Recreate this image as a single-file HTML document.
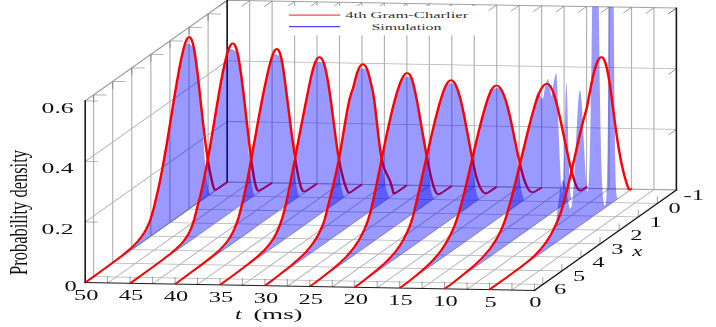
<!DOCTYPE html>
<html><head><meta charset="utf-8"><title>Probability density</title>
<style>
html,body{margin:0;padding:0;background:#fff}
svg{display:block}
text{font-family:"Liberation Serif",serif;fill:#111}
.lt text{fill:#333}
.g{stroke:#b2b2b2;stroke-width:.78;fill:none}
.e{stroke:#a2a2a2;stroke-width:1.0;fill:none}
.k{stroke:#666;stroke-width:.5;fill:none}
.k2{stroke:#999;stroke-width:.6;fill:none}
.a{stroke:#1a1a1a;stroke-width:1.05;fill:none;stroke-linecap:square}
.f{fill:#00f;fill-opacity:.4;stroke:none}
.r{fill:none;stroke:#f00;stroke-width:1.65;stroke-linejoin:round}
</style></head><body>
<svg width="716" height="327" viewBox="0 0 716 327">
<rect width="716" height="327" fill="#fff"/>
<g transform="scale(1.5,1)"><line x1="356.27" y1="290.40" x2="450.93" y2="189.90" class="g"/><line x1="450.93" y1="189.90" x2="450.93" y2="8.10" class="g"/><line x1="341.29" y1="290.01" x2="435.96" y2="189.51" class="g"/><line x1="435.96" y1="189.51" x2="435.96" y2="7.71" class="g"/><line x1="326.32" y1="289.62" x2="420.99" y2="189.12" class="g"/><line x1="420.99" y1="189.12" x2="420.99" y2="7.32" class="g"/><line x1="311.35" y1="289.23" x2="406.01" y2="188.73" class="g"/><line x1="406.01" y1="188.73" x2="406.01" y2="6.93" class="g"/><line x1="296.37" y1="288.84" x2="391.04" y2="188.34" class="g"/><line x1="391.04" y1="188.34" x2="391.04" y2="6.54" class="g"/><line x1="281.40" y1="288.45" x2="376.07" y2="187.95" class="g"/><line x1="376.07" y1="187.95" x2="376.07" y2="6.15" class="g"/><line x1="266.43" y1="288.06" x2="361.09" y2="187.56" class="g"/><line x1="361.09" y1="187.56" x2="361.09" y2="5.76" class="g"/><line x1="251.45" y1="287.67" x2="346.12" y2="187.17" class="g"/><line x1="346.12" y1="187.17" x2="346.12" y2="5.37" class="g"/><line x1="236.48" y1="287.28" x2="331.15" y2="186.78" class="g"/><line x1="331.15" y1="186.78" x2="331.15" y2="4.98" class="g"/><line x1="221.51" y1="286.89" x2="316.17" y2="186.39" class="g"/><line x1="316.17" y1="186.39" x2="316.17" y2="4.59" class="g"/><line x1="206.53" y1="286.50" x2="301.20" y2="186.00" class="g"/><line x1="301.20" y1="186.00" x2="301.20" y2="4.20" class="g"/><line x1="191.56" y1="286.11" x2="286.23" y2="185.61" class="g"/><line x1="286.23" y1="185.61" x2="286.23" y2="3.81" class="g"/><line x1="176.59" y1="285.72" x2="271.25" y2="185.22" class="g"/><line x1="271.25" y1="185.22" x2="271.25" y2="3.42" class="g"/><line x1="161.61" y1="285.33" x2="256.28" y2="184.83" class="g"/><line x1="256.28" y1="184.83" x2="256.28" y2="3.03" class="g"/><line x1="146.64" y1="284.94" x2="241.31" y2="184.44" class="g"/><line x1="241.31" y1="184.44" x2="241.31" y2="2.64" class="g"/><line x1="131.67" y1="284.55" x2="226.33" y2="184.05" class="g"/><line x1="226.33" y1="184.05" x2="226.33" y2="2.25" class="g"/><line x1="116.69" y1="284.16" x2="211.36" y2="183.66" class="g"/><line x1="211.36" y1="183.66" x2="211.36" y2="1.86" class="g"/><line x1="101.72" y1="283.77" x2="196.39" y2="183.27" class="g"/><line x1="196.39" y1="183.27" x2="196.39" y2="1.47" class="g"/><line x1="86.75" y1="283.38" x2="181.41" y2="182.88" class="g"/><line x1="181.41" y1="182.88" x2="181.41" y2="1.08" class="g"/><line x1="71.77" y1="282.99" x2="166.44" y2="182.49" class="g"/><line x1="166.44" y1="182.49" x2="166.44" y2="0.69" class="g"/><line x1="56.80" y1="282.60" x2="151.47" y2="182.10" class="g"/><line x1="151.47" y1="182.10" x2="151.47" y2="0.30" class="g"/><line x1="450.93" y1="189.90" x2="151.47" y2="182.10" class="g"/><line x1="151.47" y1="182.10" x2="151.47" y2="0.30" class="g"/><line x1="438.21" y1="203.41" x2="138.74" y2="195.61" class="g"/><line x1="138.74" y1="195.61" x2="138.74" y2="13.81" class="g"/><line x1="425.49" y1="216.92" x2="126.02" y2="209.12" class="g"/><line x1="126.02" y1="209.12" x2="126.02" y2="27.32" class="g"/><line x1="412.76" y1="230.42" x2="113.29" y2="222.62" class="g"/><line x1="113.29" y1="222.62" x2="113.29" y2="40.82" class="g"/><line x1="400.04" y1="243.93" x2="100.57" y2="236.13" class="g"/><line x1="100.57" y1="236.13" x2="100.57" y2="54.33" class="g"/><line x1="387.31" y1="257.44" x2="87.85" y2="249.64" class="g"/><line x1="87.85" y1="249.64" x2="87.85" y2="67.84" class="g"/><line x1="374.59" y1="270.95" x2="75.12" y2="263.15" class="g"/><line x1="75.12" y1="263.15" x2="75.12" y2="81.35" class="g"/><line x1="361.87" y1="284.46" x2="62.40" y2="276.66" class="g"/><line x1="62.40" y1="276.66" x2="62.40" y2="94.86" class="g"/><line x1="56.80" y1="222.00" x2="151.47" y2="121.50" class="g"/><line x1="151.47" y1="121.50" x2="450.93" y2="129.30" class="g"/><line x1="56.80" y1="161.40" x2="151.47" y2="60.90" class="g"/><line x1="151.47" y1="60.90" x2="450.93" y2="68.70" class="g"/><line x1="56.80" y1="100.80" x2="151.47" y2="0.30" class="e"/><line x1="151.47" y1="0.30" x2="450.93" y2="8.10" class="e"/><line x1="56.80" y1="282.60" x2="151.47" y2="182.10" class="e"/><line x1="151.47" y1="182.10" x2="450.93" y2="189.90" class="e"/></g>
<g transform="scale(1.5,1)"><line x1="356.27" y1="290.40" x2="356.27" y2="283.40" class="k"/><line x1="450.93" y1="8.10" x2="445.49" y2="13.88" class="k"/><line x1="341.29" y1="290.01" x2="341.29" y2="283.01" class="k"/><line x1="435.96" y1="7.71" x2="430.52" y2="13.49" class="k"/><line x1="326.32" y1="289.62" x2="326.32" y2="282.62" class="k"/><line x1="420.99" y1="7.32" x2="415.54" y2="13.10" class="k"/><line x1="311.35" y1="289.23" x2="311.35" y2="282.23" class="k"/><line x1="406.01" y1="6.93" x2="400.57" y2="12.71" class="k"/><line x1="296.37" y1="288.84" x2="296.37" y2="281.84" class="k"/><line x1="391.04" y1="6.54" x2="385.60" y2="12.32" class="k"/><line x1="281.40" y1="288.45" x2="281.40" y2="281.45" class="k"/><line x1="376.07" y1="6.15" x2="370.62" y2="11.93" class="k"/><line x1="266.43" y1="288.06" x2="266.43" y2="281.06" class="k"/><line x1="361.09" y1="5.76" x2="355.65" y2="11.54" class="k"/><line x1="251.45" y1="287.67" x2="251.45" y2="280.67" class="k"/><line x1="346.12" y1="5.37" x2="340.68" y2="11.15" class="k"/><line x1="236.48" y1="287.28" x2="236.48" y2="280.28" class="k"/><line x1="331.15" y1="4.98" x2="325.70" y2="10.76" class="k"/><line x1="221.51" y1="286.89" x2="221.51" y2="279.89" class="k"/><line x1="316.17" y1="4.59" x2="310.73" y2="10.37" class="k"/><line x1="206.53" y1="286.50" x2="206.53" y2="279.50" class="k"/><line x1="301.20" y1="4.20" x2="295.76" y2="9.98" class="k"/><line x1="191.56" y1="286.11" x2="191.56" y2="279.11" class="k"/><line x1="286.23" y1="3.81" x2="280.78" y2="9.59" class="k"/><line x1="176.59" y1="285.72" x2="176.59" y2="278.72" class="k"/><line x1="271.25" y1="3.42" x2="265.81" y2="9.20" class="k"/><line x1="161.61" y1="285.33" x2="161.61" y2="278.33" class="k"/><line x1="256.28" y1="3.03" x2="250.84" y2="8.81" class="k"/><line x1="146.64" y1="284.94" x2="146.64" y2="277.94" class="k"/><line x1="241.31" y1="2.64" x2="235.86" y2="8.42" class="k"/><line x1="131.67" y1="284.55" x2="131.67" y2="277.55" class="k"/><line x1="226.33" y1="2.25" x2="220.89" y2="8.03" class="k"/><line x1="116.69" y1="284.16" x2="116.69" y2="277.16" class="k"/><line x1="211.36" y1="1.86" x2="205.92" y2="7.64" class="k"/><line x1="101.72" y1="283.77" x2="101.72" y2="276.77" class="k"/><line x1="196.39" y1="1.47" x2="190.94" y2="7.25" class="k"/><line x1="86.75" y1="283.38" x2="86.75" y2="276.38" class="k"/><line x1="181.41" y1="1.08" x2="175.97" y2="6.86" class="k"/><line x1="71.77" y1="282.99" x2="71.77" y2="275.99" class="k"/><line x1="166.44" y1="0.69" x2="161.00" y2="6.47" class="k"/><line x1="56.80" y1="282.60" x2="56.80" y2="275.60" class="k"/><line x1="151.47" y1="0.30" x2="146.02" y2="6.08" class="k"/><line x1="450.93" y1="189.90" x2="450.93" y2="182.90" class="k"/><line x1="151.47" y1="0.30" x2="160.00" y2="0.52" class="k2"/><line x1="151.47" y1="0.30" x2="151.47" y2="7.80" class="k"/><line x1="438.21" y1="203.41" x2="438.21" y2="196.41" class="k"/><line x1="138.74" y1="13.81" x2="147.27" y2="14.03" class="k2"/><line x1="138.74" y1="13.81" x2="138.74" y2="21.31" class="k"/><line x1="425.49" y1="216.92" x2="425.49" y2="209.92" class="k"/><line x1="126.02" y1="27.32" x2="134.55" y2="27.54" class="k2"/><line x1="126.02" y1="27.32" x2="126.02" y2="34.82" class="k"/><line x1="412.76" y1="230.42" x2="412.76" y2="223.42" class="k"/><line x1="113.29" y1="40.82" x2="121.83" y2="41.05" class="k2"/><line x1="113.29" y1="40.82" x2="113.29" y2="48.32" class="k"/><line x1="400.04" y1="243.93" x2="400.04" y2="236.93" class="k"/><line x1="100.57" y1="54.33" x2="109.10" y2="54.55" class="k2"/><line x1="100.57" y1="54.33" x2="100.57" y2="61.83" class="k"/><line x1="387.31" y1="257.44" x2="387.31" y2="250.44" class="k"/><line x1="87.85" y1="67.84" x2="96.38" y2="68.06" class="k2"/><line x1="87.85" y1="67.84" x2="87.85" y2="75.34" class="k"/><line x1="374.59" y1="270.95" x2="374.59" y2="263.95" class="k"/><line x1="75.12" y1="81.35" x2="83.65" y2="81.57" class="k2"/><line x1="75.12" y1="81.35" x2="75.12" y2="88.85" class="k"/><line x1="361.87" y1="284.46" x2="361.87" y2="277.46" class="k"/><line x1="62.40" y1="94.86" x2="70.93" y2="95.08" class="k2"/><line x1="62.40" y1="94.86" x2="62.40" y2="102.36" class="k"/><line x1="56.80" y1="222.00" x2="65.13" y2="222.22" class="k2"/><line x1="450.93" y1="129.30" x2="445.49" y2="135.08" class="k"/><line x1="56.80" y1="161.40" x2="65.13" y2="161.62" class="k2"/><line x1="450.93" y1="68.70" x2="445.49" y2="74.48" class="k"/><line x1="56.80" y1="100.80" x2="65.13" y2="101.02" class="k2"/><line x1="450.93" y1="8.10" x2="445.49" y2="13.88" class="k"/></g>
<g transform="scale(1.5,1)"><line x1="56.80" y1="282.60" x2="356.27" y2="290.40" class="a"/><line x1="356.27" y1="290.40" x2="450.93" y2="189.90" class="a"/><line x1="56.80" y1="282.60" x2="56.80" y2="100.80" class="a"/><line x1="450.93" y1="189.90" x2="450.93" y2="8.10" class="a"/><line x1="151.47" y1="182.10" x2="151.47" y2="0.30" class="a"/></g>
<clipPath id="c"><polygon points="56.80,282.60 356.27,290.40 450.93,189.90 450.93,8.10 151.47,0.30 56.80,100.80"/></clipPath>
<g transform="scale(1.5,1)"><g clip-path="url(#c)"><polygon class="f" points="151.47,182.1 139.78,194.5 139.40,193.0 138.84,189.5 138.33,185.2 137.76,179.1 137.26,172.2 136.56,160.5 135.93,147.3 135.30,131.7 134.67,113.6 132.14,79.2 131.32,69.2 130.56,61.0 129.99,55.9 129.43,51.8 128.86,48.8 128.29,46.7 127.97,46.0 127.53,45.2 127.09,44.7 126.39,44.1 125.83,43.6 125.26,43.4 124.82,43.4 124.37,43.7 123.87,44.4 123.36,45.7 122.86,47.4 122.35,49.7 121.22,56.4 119.83,66.4 118.63,76.1 117.17,88.7 112.44,132.7 110.42,150.7 108.27,168.5 106.12,184.7 104.54,195.5 102.21,210.0 100.75,217.4 100.00,220.6 99.24,223.5 98.23,226.8 97.09,230.1 95.89,233.2 94.57,236.1 93.18,238.9 91.60,241.7 89.83,244.5 87.87,247.3 85.85,250.0 83.58,252.9 77.96,259.5 71.20,267.0 56.80,282.6"/><polyline class="r" points="56.80,282.6 71.20,267.0 78.12,259.3 81.29,255.7 83.88,252.5 86.19,249.6 88.20,246.9 90.22,243.9 91.95,241.1 93.39,238.5 94.83,235.6 96.27,232.3 97.42,229.2 98.57,225.7 99.44,222.8 100.30,219.4 101.17,215.4 102.61,207.6 105.20,191.1 106.35,183.1 107.51,174.5 109.23,160.7 111.25,143.4 116.44,95.4 117.88,82.5 119.32,70.4 120.76,59.4 122.20,50.0 122.77,46.7 123.35,43.8 123.93,41.4 124.50,39.4 125.08,38.0 125.37,37.5 125.66,37.2 125.94,37.0 126.23,37.0 126.52,37.1 126.81,37.4 127.10,38.0 127.38,38.6 127.67,39.5 128.25,41.9 128.82,45.2 129.69,51.7 130.55,60.2 131.71,73.6 135.74,128.0 136.60,138.8 137.47,148.8 138.62,160.4 139.77,170.3 140.92,178.8 142.08,185.8 142.65,188.6 142.94,189.6 143.20,190.0 143.60,190.0 144.26,189.5 145.31,188.5 151.47,182.1"/><polygon class="f" points="181.41,182.9 169.73,195.3 169.35,194.5 168.91,192.7 168.34,189.2 167.77,184.2 167.20,177.5 166.70,170.1 165.69,150.7 164.61,123.5 161.77,86.5 160.76,74.9 159.94,66.7 159.31,61.4 158.74,57.5 158.17,54.6 157.86,53.4 157.48,52.2 157.16,51.5 156.72,50.8 156.15,50.2 155.46,49.7 154.70,49.3 154.13,49.1 153.69,49.1 153.25,49.5 152.74,50.2 152.24,51.5 151.73,53.3 151.16,55.8 149.96,62.6 148.51,72.8 147.25,82.7 145.79,95.0 141.06,137.8 139.23,153.8 137.14,170.5 135.00,186.1 133.29,197.4 132.34,202.3 129.94,216.8 128.68,223.2 127.35,228.5 126.47,231.5 125.52,234.2 124.45,236.9 123.31,239.3 122.05,241.8 120.72,244.0 119.14,246.5 117.38,249.0 113.59,253.8 108.53,259.6 86.75,283.4"/><polyline class="r" points="86.75,283.4 103.48,265.2 108.39,259.8 113.58,253.8 115.60,251.3 117.33,249.0 119.06,246.6 120.79,243.9 122.24,241.4 123.39,239.2 124.54,236.6 125.70,233.7 126.56,231.2 127.43,228.3 128.29,224.9 128.87,222.3 129.45,219.5 130.31,214.7 132.33,202.3 133.49,196.2 134.93,186.6 136.37,176.3 138.10,163.0 139.84,148.6 145.03,101.8 146.76,86.7 148.20,75.1 149.64,64.7 151.09,55.7 151.66,52.7 152.24,50.0 152.82,47.7 153.40,45.9 153.97,44.5 154.55,43.7 154.84,43.4 155.13,43.3 155.42,43.4 155.70,43.6 155.99,43.9 156.57,45.1 157.15,47.0 157.72,49.5 158.30,52.8 158.88,56.9 159.45,61.7 160.61,73.1 161.76,86.3 162.92,100.9 166.09,142.8 167.53,160.2 168.40,169.4 169.26,177.3 170.13,183.8 170.71,187.0 171.28,189.4 171.57,190.1 171.86,190.6 172.15,190.8 172.44,190.8 175.52,188.3 181.41,182.9"/><polygon class="f" points="211.36,183.7 199.68,196.1 199.49,195.8 199.23,195.1 198.79,193.5 198.29,190.7 197.85,187.5 197.40,183.5 196.90,177.8 196.27,169.0 195.70,159.4 194.56,135.2 190.14,83.0 189.38,74.7 188.75,68.7 188.25,64.7 187.68,61.2 187.11,58.6 186.54,56.9 186.22,56.2 185.78,55.6 185.21,55.0 184.65,54.6 184.08,54.3 183.51,54.2 183.07,54.3 182.75,54.6 182.25,55.3 181.80,56.4 181.30,57.9 180.79,60.0 179.66,65.7 178.20,74.7 176.44,87.0 174.48,101.8 172.33,119.1 166.46,167.8 164.69,181.6 163.05,193.7 162.16,199.7 159.32,216.1 158.00,222.4 156.42,228.5 155.41,231.8 154.40,234.7 153.26,237.6 152.06,240.2 150.67,243.0 149.22,245.5 147.64,248.0 145.81,250.7 141.95,255.8 136.90,261.8 121.81,278.6 116.69,284.2"/><polyline class="r" points="116.69,284.2 121.86,278.5 136.80,261.9 141.68,256.1 143.69,253.6 145.71,250.9 147.43,248.4 149.15,245.6 150.59,243.1 152.02,240.3 153.17,237.8 154.32,234.9 155.47,231.6 156.33,228.8 157.77,223.3 158.63,219.5 159.21,216.7 160.07,212.0 162.08,200.2 162.94,194.4 164.66,181.8 166.39,168.4 172.42,118.4 174.43,102.2 176.44,87.0 178.45,73.1 180.18,62.6 181.04,58.2 181.61,55.6 182.19,53.3 182.76,51.5 183.33,50.1 183.91,49.3 184.20,49.0 184.48,48.9 184.77,49.0 185.06,49.2 185.35,49.5 185.63,50.1 186.21,51.7 186.78,54.0 187.36,57.0 188.22,63.2 188.79,68.3 189.65,77.3 194.25,131.6 196.26,153.6 197.41,164.7 198.27,172.0 199.42,180.4 200.28,185.4 200.86,188.0 201.14,189.1 201.72,190.7 202.01,191.1 202.29,191.4 202.98,191.5 203.37,191.4 203.76,191.2 204.95,190.1 211.36,183.7"/><polygon class="f" points="241.31,184.4 229.62,196.8 229.18,195.9 228.68,194.3 228.11,191.5 227.60,188.2 227.10,184.1 226.59,179.0 226.02,172.0 225.52,164.5 224.51,145.6 220.09,95.5 219.01,84.8 218.00,76.4 217.31,71.6 216.68,68.2 216.11,65.9 215.41,64.1 215.10,63.5 214.66,63.0 214.15,62.6 213.52,62.3 212.57,62.0 211.94,61.9 211.44,62.0 210.99,62.4 210.55,63.0 210.11,64.0 209.67,65.3 209.29,66.6 208.40,70.7 207.39,76.7 206.07,86.1 202.66,111.8 199.06,139.6 193.82,180.9 191.10,200.9 189.52,210.8 188.26,217.7 186.99,223.4 185.35,229.6 184.34,232.9 183.27,236.0 182.07,239.0 180.81,241.8 179.42,244.6 177.96,247.2 176.32,249.9 174.49,252.7 172.66,255.2 170.51,258.0 165.40,264.1 153.46,277.5 146.64,284.9"/><polyline class="r" points="146.64,284.9 153.51,277.5 165.26,264.3 168.12,260.9 170.41,258.1 172.42,255.5 174.42,252.8 176.14,250.2 177.86,247.4 179.29,244.9 180.72,242.0 182.15,238.8 183.30,235.9 184.44,232.6 185.30,229.8 187.02,223.3 188.17,218.1 189.31,212.0 191.03,201.4 193.61,182.5 199.34,137.4 203.06,108.7 206.21,85.0 207.64,75.1 208.79,68.5 209.36,65.7 209.93,63.3 210.51,61.2 211.08,59.6 211.65,58.4 212.22,57.5 212.51,57.3 212.80,57.2 213.08,57.1 213.37,57.2 213.66,57.4 214.23,58.2 214.52,58.8 215.09,60.3 215.95,63.5 216.52,66.3 217.09,69.7 217.67,73.6 218.81,82.9 219.96,94.1 221.10,106.7 223.97,139.8 224.83,148.8 225.69,157.0 226.83,166.3 227.98,174.0 229.12,180.5 230.27,185.8 231.13,189.3 231.70,191.2 231.99,192.0 232.27,192.5 232.54,192.7 232.80,192.8 233.46,192.4 234.64,191.3 241.31,184.4"/><polygon class="f" points="271.25,185.2 259.57,197.6 259.32,197.0 258.88,195.6 257.99,191.7 257.17,187.0 256.48,182.0 255.84,176.3 255.15,168.5 254.45,158.6 253.63,151.7 252.75,142.1 249.72,102.8 248.90,94.4 248.20,89.1 246.69,79.6 246.06,76.1 245.30,72.8 244.60,70.7 244.22,69.9 243.84,69.4 243.40,69.0 242.90,68.8 242.01,68.6 241.00,68.6 240.43,68.8 239.87,69.2 239.30,70.1 238.79,71.2 238.29,72.8 237.72,75.1 236.77,79.8 235.45,87.8 234.12,93.3 233.11,98.8 232.29,104.3 231.28,112.2 226.67,153.3 225.40,163.4 224.14,172.6 222.12,185.7 218.96,204.3 216.94,216.8 215.80,222.4 214.54,227.3 213.22,231.6 212.08,235.0 210.82,238.3 209.55,241.3 208.10,244.4 206.52,247.5 204.82,250.5 202.92,253.5 201.03,256.3 198.94,259.2 194.14,265.4 182.46,279.2 176.59,285.7"/><polyline class="r" points="176.59,285.7 179.45,282.6 182.61,279.0 194.08,265.5 196.38,262.6 198.67,259.6 200.68,256.8 202.69,253.9 204.41,251.2 206.13,248.2 207.85,244.9 209.28,241.9 210.72,238.6 211.87,235.6 213.01,232.3 214.45,227.6 215.31,224.5 215.88,222.1 216.45,219.4 217.03,216.3 219.04,203.8 222.19,185.2 224.20,172.2 225.63,161.7 226.78,152.4 230.22,121.3 231.37,111.4 232.23,104.8 233.09,98.9 233.95,94.1 235.39,88.1 237.11,77.8 237.68,74.8 238.25,72.2 239.11,69.0 239.69,67.2 240.26,65.9 240.55,65.4 241.12,64.6 241.70,64.2 241.98,64.2 242.27,64.3 242.56,64.5 243.13,65.1 243.70,66.2 244.28,67.8 244.56,68.8 245.14,71.0 245.71,73.7 246.28,76.9 248.29,89.7 248.87,94.1 249.15,96.8 249.73,102.9 250.30,109.9 252.02,132.8 252.88,143.6 253.74,152.7 254.60,159.7 255.46,165.0 256.32,169.0 257.18,172.1 259.48,179.0 260.34,182.3 261.20,186.5 262.06,191.7 262.35,193.2 262.48,193.5 262.74,193.7 263.00,193.6 263.53,193.2 265.37,191.4 271.25,185.2"/><polygon class="f" points="301.20,186.0 289.52,198.4 289.33,198.2 289.01,197.7 288.44,196.2 288.00,194.5 287.56,192.1 286.74,186.1 286.11,179.9 285.54,173.1 284.97,165.0 284.40,155.6 278.59,105.8 277.20,94.9 276.13,87.6 275.43,83.7 274.87,81.2 274.17,79.0 273.54,77.8 273.16,77.3 272.72,77.0 271.71,76.8 270.76,76.8 270.13,76.9 269.62,77.1 269.18,77.5 268.55,78.4 267.86,79.9 267.16,82.0 266.34,85.0 265.46,88.8 264.44,93.6 262.42,104.6 260.28,117.8 258.00,133.2 255.73,149.6 250.87,186.0 249.41,196.2 248.15,204.6 246.89,212.3 245.69,218.5 244.43,223.9 242.97,229.1 241.52,233.8 240.38,237.1 239.12,240.4 237.73,243.8 236.28,246.9 234.70,250.0 232.99,253.1 231.10,256.2 229.21,259.1 227.12,262.1 224.85,265.1 222.26,268.3 213.23,279.1 210.07,282.7 206.53,286.5"/><polyline class="r" points="206.53,286.5 209.97,282.8 213.12,279.2 222.00,268.7 224.58,265.4 226.87,262.4 228.87,259.6 230.88,256.6 232.88,253.3 234.60,250.2 236.32,246.8 237.75,243.7 239.18,240.3 240.33,237.2 241.47,233.9 242.91,229.4 244.34,224.2 245.20,220.7 245.77,218.1 246.92,212.1 248.06,205.2 249.21,197.6 250.64,187.6 256.08,147.0 258.37,130.6 260.66,115.3 261.81,108.2 262.95,101.6 264.10,95.4 264.96,91.1 266.10,85.8 266.96,82.3 267.82,79.3 268.68,76.8 269.54,74.8 270.11,73.9 270.40,73.5 270.97,73.1 271.26,73.0 271.83,73.1 272.40,73.6 272.69,73.9 273.26,75.0 273.84,76.5 274.12,77.5 274.70,79.7 275.27,82.4 275.84,85.6 276.99,93.3 278.42,104.4 283.57,148.8 284.72,158.2 285.87,167.0 287.01,175.1 287.87,180.3 289.02,186.4 289.87,189.9 290.45,191.8 290.73,192.6 291.31,193.6 291.59,193.9 291.88,194.1 292.69,194.0 293.48,193.6 294.80,192.5 301.20,186.0"/><polygon class="f" points="331.15,186.8 319.46,199.2 319.15,198.6 318.71,197.4 318.07,195.0 317.51,191.9 316.94,187.9 316.43,183.4 315.86,177.3 315.36,170.9 314.35,155.2 309.42,115.6 308.10,106.1 306.77,98.0 305.82,93.1 304.94,89.3 304.05,86.4 303.61,85.4 303.23,84.6 302.85,84.1 302.41,83.7 301.97,83.4 301.40,83.3 300.71,83.3 299.70,83.6 299.06,83.8 298.50,84.3 297.80,85.3 297.17,86.6 296.48,88.5 295.84,90.7 295.09,93.7 294.27,97.4 292.43,106.9 290.10,120.3 287.63,135.7 279.17,192.0 275.95,212.6 275.00,217.9 273.99,222.7 272.92,227.0 271.66,231.4 270.20,236.0 269.07,239.3 267.74,242.7 266.41,245.9 264.96,249.0 263.38,252.1 261.74,255.1 259.91,258.1 258.08,260.9 256.06,263.8 253.91,266.7 251.45,269.8 243.05,280.0 239.95,283.5 236.48,287.3"/><polyline class="r" points="236.48,287.3 239.97,283.5 243.17,279.8 251.62,269.6 253.94,266.6 256.27,263.5 258.31,260.5 260.06,257.8 261.80,254.9 263.55,251.8 265.01,248.9 266.46,245.8 267.92,242.3 269.08,239.2 270.24,235.8 271.70,231.3 272.86,227.2 274.03,222.5 275.19,216.9 276.07,211.9 279.27,191.3 285.09,152.3 287.71,135.2 290.33,118.9 292.66,105.6 293.82,99.6 294.70,95.4 295.57,91.6 296.44,88.3 297.32,85.4 298.19,83.1 299.06,81.4 299.64,80.7 300.23,80.3 300.52,80.2 301.10,80.2 301.39,80.4 301.97,81.0 302.26,81.4 302.85,82.5 303.72,84.8 304.59,87.7 305.47,91.3 306.34,95.6 306.92,98.8 307.79,104.2 309.25,114.3 310.70,125.6 314.20,154.0 315.94,167.0 317.11,174.4 317.98,179.1 318.85,182.9 319.73,186.2 320.60,188.9 321.18,190.3 321.77,191.5 322.35,192.4 322.64,192.7 323.51,193.4 323.78,193.4 324.17,193.3 324.57,193.1 325.62,192.3 331.15,186.8"/><polygon class="f" points="361.09,187.6 349.41,200.0 349.35,199.9 348.65,197.1 348.02,193.6 347.39,189.0 346.76,183.2 346.13,176.1 345.49,167.7 344.29,147.8 340.51,120.1 339.18,111.5 338.04,104.9 336.91,99.3 335.77,94.7 334.76,91.5 334.25,90.3 333.81,89.5 333.37,88.8 332.93,88.4 332.48,88.2 331.92,88.0 331.03,88.1 329.83,88.4 329.20,88.7 328.63,89.2 328.06,89.9 327.43,91.2 326.86,92.7 326.17,94.9 324.78,100.6 323.14,108.6 321.24,119.0 319.16,131.4 311.33,181.6 309.62,192.1 308.04,201.3 305.90,212.9 304.57,219.3 302.99,225.9 301.29,231.8 300.15,235.3 298.51,239.9 297.12,243.5 295.67,246.9 294.09,250.3 292.45,253.6 290.68,256.8 288.85,259.8 286.95,262.8 284.99,265.6 282.78,268.7 280.38,271.8 273.12,280.7 270.03,284.2 266.43,288.1"/><polyline class="r" points="266.43,288.1 270.00,284.2 273.27,280.5 275.95,277.3 280.41,271.7 282.79,268.6 284.87,265.8 286.95,262.8 288.74,260.0 290.52,257.0 292.31,253.8 294.09,250.3 295.58,247.1 297.07,243.6 298.55,239.8 300.04,235.6 301.23,232.0 302.12,229.1 303.01,225.8 304.50,219.6 305.99,212.4 308.07,201.1 309.56,192.5 311.34,181.5 316.99,145.0 319.08,131.9 321.16,119.5 323.24,108.1 325.03,99.4 325.92,95.7 326.51,93.5 327.41,90.6 328.00,89.0 328.60,87.7 328.89,87.2 329.49,86.3 329.79,86.0 330.38,85.6 330.68,85.5 331.27,85.5 331.57,85.6 332.17,86.1 332.46,86.4 333.06,87.2 333.95,89.1 334.84,91.5 335.74,94.5 336.92,99.4 337.52,102.2 338.41,107.0 339.90,116.0 341.39,126.3 345.25,154.8 347.04,166.6 348.23,173.4 349.12,178.0 350.01,182.0 351.20,186.2 352.10,188.8 352.99,190.7 353.58,191.5 353.88,191.8 354.48,192.1 355.50,192.1 356.03,191.9 356.55,191.6 357.61,190.7 361.09,187.6"/><polygon class="f" points="391.04,188.3 382.58,197.3 381.63,198.2 381.25,198.4 380.94,198.2 380.68,197.5 380.43,196.1 380.18,193.6 379.92,189.3 379.48,176.3 379.04,154.6 378.09,96.5 377.84,86.8 377.71,84.1 377.59,83.0 377.53,83.0 377.46,83.5 377.34,85.6 377.02,97.2 376.07,155.7 375.57,179.4 375.31,186.7 375.06,191.1 374.81,193.1 374.68,193.4 374.62,193.4 374.49,193.1 374.24,190.0 373.93,182.3 373.29,163.0 372.54,136.0 372.09,118.2 371.59,88.3 371.08,76.0 370.89,73.5 370.83,73.1 370.77,72.9 370.70,73.0 370.45,73.7 370.20,74.9 369.38,80.6 369.06,83.5 368.24,92.9 367.99,94.9 367.74,95.8 367.67,95.8 367.55,95.6 367.36,94.7 366.66,88.5 365.72,81.1 365.46,79.6 365.21,78.9 365.08,78.9 364.89,79.3 364.52,80.7 363.38,87.1 362.37,96.2 362.12,97.9 361.93,98.6 361.74,98.8 361.55,98.8 361.11,98.2 360.09,95.8 359.21,92.9 358.83,92.2 358.64,92.2 358.39,92.5 358.14,93.2 357.82,94.4 357.19,97.6 355.80,105.9 353.91,119.8 351.38,134.6 344.12,179.6 341.15,197.0 338.43,211.8 336.85,219.5 335.97,223.3 335.09,226.7 334.14,229.9 333.19,232.8 331.80,236.8 330.54,240.1 329.15,243.4 327.63,246.7 326.12,249.7 324.41,252.8 322.58,255.9 320.69,258.9 316.71,264.6 311.91,270.8 302.81,281.7 299.72,285.2 296.37,288.8"/><polyline class="r" points="296.37,288.8 299.77,285.2 302.85,281.7 312.11,270.5 314.58,267.4 317.04,264.2 319.20,261.1 321.06,258.4 322.91,255.4 324.76,252.2 326.61,248.8 328.15,245.6 329.69,242.1 330.93,239.1 332.16,235.8 333.70,231.3 335.25,226.1 336.79,219.8 338.33,212.3 340.49,200.7 342.34,190.2 344.19,179.2 350.67,139.0 352.83,125.9 354.68,115.3 356.23,107.1 357.15,102.6 358.08,98.5 359.00,94.8 359.93,91.6 360.86,88.8 361.78,86.6 362.71,85.0 363.32,84.3 363.94,83.8 364.25,83.7 364.87,83.8 365.17,83.9 365.79,84.4 366.10,84.8 366.72,85.9 367.64,88.2 368.26,90.2 368.88,92.6 369.80,96.8 370.42,99.9 371.34,105.2 372.89,114.9 374.43,125.6 378.13,152.2 379.98,164.6 380.91,170.3 381.83,175.5 382.76,180.2 383.38,182.9 384.30,186.2 384.92,188.0 385.54,189.4 385.85,189.9 386.15,190.2 386.46,190.5 386.77,190.6 387.08,190.6 387.70,190.3 390.99,187.0 391.04,188.3"/><polygon class="f" points="420.99,189.1 412.78,197.8 412.15,198.4 411.77,198.4 411.51,198.0 411.32,197.3 411.01,194.7 410.76,190.4 410.50,182.8 410.25,170.1 410.00,150.3 409.56,92.5 409.11,-0.1 408.04,-284.9 407.72,-331.7 407.60,-340.0 407.53,-341.7 407.47,-341.8 407.35,-336.9 407.22,-325.6 406.90,-272.3 405.83,16.7 405.32,115.8 405.01,154.8 404.69,179.2 404.31,195.2 404.06,200.7 403.81,203.7 403.62,205.0 403.37,205.7 403.24,205.8 403.11,205.7 402.86,205.1 402.61,203.9 402.42,202.5 401.98,197.3 401.60,189.8 401.28,180.4 400.71,154.4 400.21,118.8 399.70,70.6 398.31,-101.1 397.87,-148.6 397.62,-169.5 397.37,-184.5 397.11,-192.9 396.99,-194.4 396.93,-194.4 396.74,-191.9 396.48,-182.4 395.98,-144.3 395.54,-95.4 394.34,56.3 393.58,129.5 393.20,154.7 392.82,172.7 392.44,184.1 392.25,187.7 392.00,190.6 391.87,191.4 391.75,191.7 391.62,191.5 391.43,190.7 391.12,187.6 390.74,181.6 389.98,164.2 388.46,120.0 387.83,104.3 387.45,97.2 387.14,93.0 386.82,90.6 386.63,90.1 386.50,90.2 386.38,90.6 386.19,91.7 385.87,95.1 385.56,100.2 385.24,106.9 384.61,123.8 383.09,169.7 382.27,189.5 381.83,197.3 381.45,202.3 381.07,205.8 380.88,207.0 380.63,208.1 380.38,208.6 380.25,208.6 380.06,208.5 379.81,207.9 379.49,206.6 378.80,202.1 377.28,189.0 376.59,184.0 376.21,182.0 375.83,180.7 375.64,180.3 375.45,180.1 375.26,180.1 375.07,180.3 374.70,181.4 374.32,183.2 373.94,185.7 373.50,189.5 372.74,197.5 371.03,217.5 370.21,226.0 368.89,230.0 367.62,233.5 366.23,237.1 364.84,240.4 362.32,245.6 360.93,248.2 359.54,250.6 356.44,255.4 352.84,260.3 348.99,265.0 344.07,270.6 336.74,278.5 326.32,289.6"/><polyline class="r" points="326.32,289.6 339.70,275.3 346.85,267.4 349.96,263.8 352.45,260.8 354.63,257.9 356.81,254.9 358.98,251.5 360.85,248.3 362.72,244.8 364.27,241.6 365.83,238.1 367.38,234.2 368.94,229.8 370.49,225.1 371.74,220.9 372.67,217.5 373.60,213.7 374.23,210.9 375.47,204.7 377.96,190.3 380.76,172.8 385.42,141.9 387.29,129.9 388.85,120.7 390.71,110.7 391.34,106.9 394.14,84.8 395.38,76.2 396.31,70.6 397.25,65.8 398.18,62.0 398.80,60.0 399.11,59.2 399.73,58.0 400.05,57.5 400.36,57.2 400.67,57.1 400.98,57.0 401.29,57.2 401.60,57.4 401.91,57.9 402.53,59.2 403.16,61.2 403.78,63.8 404.71,69.1 405.64,76.1 406.27,81.7 406.89,87.9 410.31,126.7 411.56,139.9 412.80,151.4 414.04,161.4 415.29,169.8 416.22,175.4 417.47,182.0 418.09,184.9 418.71,187.6 419.02,188.6 419.33,189.4 419.60,189.6 419.86,189.7 420.12,189.6 420.91,188.9 420.99,189.1"/></g></g>
<g class="lt" style="opacity:.999"><rect x="284" y="6" width="195" height="29.3" fill="#fff"/><line x1="289" y1="15.1" x2="340" y2="15.1" stroke="#f00" stroke-width=".9"/><line x1="289" y1="26.7" x2="340" y2="26.7" stroke="#00f" stroke-width=".9"/><text transform="translate(406.7,17.8) scale(1.93,1)" text-anchor="middle" font-size="8.6"  style="">4th Gram-Charlier</text><text transform="translate(406.5,29.8) scale(1.86,1)" text-anchor="middle" font-size="8.6"  style="">Simulation</text></g>
<g style="opacity:.999"><text transform="translate(535.4,307.4) scale(1.6,1)" text-anchor="middle" font-size="15.3"  style="">0</text><text transform="translate(490.5,306.6) scale(1.6,1)" text-anchor="middle" font-size="15.3"  style="">5</text><text transform="translate(445.6,305.8) scale(1.6,1)" text-anchor="middle" font-size="15.3"  style="">10</text><text transform="translate(400.6,305.1) scale(1.6,1)" text-anchor="middle" font-size="15.3"  style="">15</text><text transform="translate(355.7,304.3) scale(1.6,1)" text-anchor="middle" font-size="15.3"  style="">20</text><text transform="translate(310.8,303.5) scale(1.6,1)" text-anchor="middle" font-size="15.3"  style="">25</text><text transform="translate(265.9,302.7) scale(1.6,1)" text-anchor="middle" font-size="15.3"  style="">30</text><text transform="translate(221.0,301.9) scale(1.6,1)" text-anchor="middle" font-size="15.3"  style="">35</text><text transform="translate(176.0,301.2) scale(1.6,1)" text-anchor="middle" font-size="15.3"  style="">40</text><text transform="translate(131.1,300.4) scale(1.6,1)" text-anchor="middle" font-size="15.3"  style="">45</text><text transform="translate(86.2,299.6) scale(1.6,1)" text-anchor="middle" font-size="15.3"  style="">50</text><text transform="translate(693.7,199.7) scale(1.6,1)" text-anchor="middle" font-size="15.3"  style="">-1</text><text transform="translate(674.6,213.2) scale(1.6,1)" text-anchor="middle" font-size="15.3"  style="">0</text><text transform="translate(655.5,226.7) scale(1.6,1)" text-anchor="middle" font-size="15.3"  style="">1</text><text transform="translate(636.4,240.2) scale(1.6,1)" text-anchor="middle" font-size="15.3"  style="">2</text><text transform="translate(617.4,253.7) scale(1.6,1)" text-anchor="middle" font-size="15.3"  style="">3</text><text transform="translate(598.3,267.2) scale(1.6,1)" text-anchor="middle" font-size="15.3"  style="">4</text><text transform="translate(579.2,280.7) scale(1.6,1)" text-anchor="middle" font-size="15.3"  style="">5</text><text transform="translate(560.1,294.3) scale(1.6,1)" text-anchor="middle" font-size="15.3"  style="">6</text><text transform="translate(73.7,234.0) scale(1.68,1)" text-anchor="end" font-size="15.3"  style="">0.2</text><text transform="translate(73.7,173.4) scale(1.68,1)" text-anchor="end" font-size="15.3"  style="">0.4</text><text transform="translate(73.7,112.8) scale(1.68,1)" text-anchor="end" font-size="15.3"  style="">0.6</text><text transform="translate(76.7,291.1) scale(1.6,1)" text-anchor="end" font-size="15.3"  style="">0</text><text transform="translate(27.2,212.5) rotate(-90) scale(1,1.48)" text-anchor="middle" font-size="16.5">Probability density</text><text transform="translate(238.4,318.5) scale(1.6,1)" text-anchor="middle" font-size="15.3" font-style="italic">t</text><text transform="translate(278,318.5) scale(1.75,1)" text-anchor="middle" font-size="15.3">(ms)</text><text transform="translate(637.3,256) scale(1.5,1)" text-anchor="middle" font-size="15.3" font-style="italic">x</text></g>
</svg>
</body></html>
